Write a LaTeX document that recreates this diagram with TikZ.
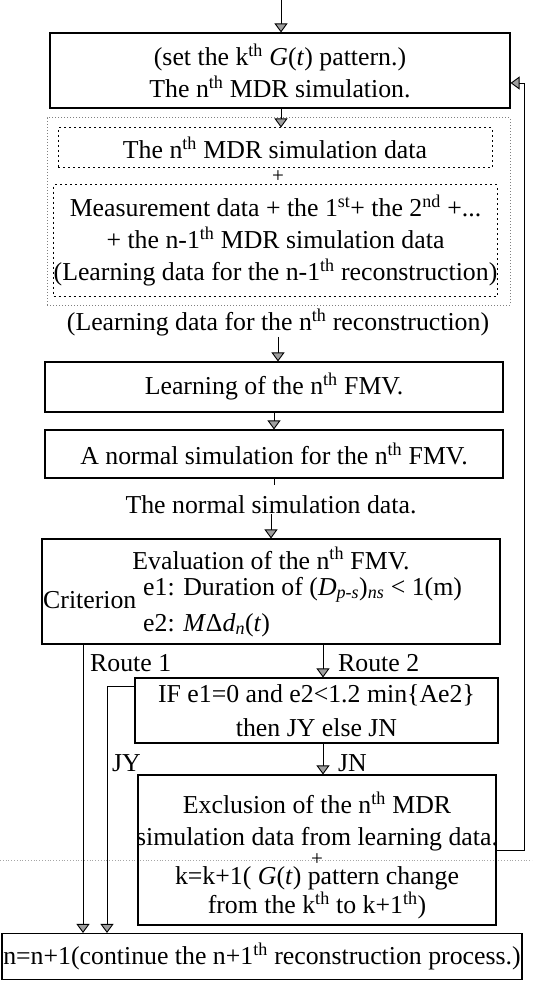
\documentclass[tikz,border=0pt]{standalone}
\usepackage{fontspec}
\setmainfont{Liberation Serif}
\usetikzlibrary{arrows.meta}
\tikzset{
  box/.style={draw, line width=1.1pt, align=center, inner sep=0pt},
  dbox/.style={draw, line width=1pt, dash pattern=on 2pt off 3pt, align=center, inner sep=0pt},
  arr/.style={line width=0.9pt, -{Triangle[width=13pt,length=9pt,fill=gray!75]}},
  lbl/.style={inner sep=0pt, align=center}
}
\newcommand{\thx}{\textsuperscript{th}}

\begin{document}
\begin{tikzpicture}[x=1pt,y=-1pt,font=\fontsize{25.8}{32}\selectfont]
  \useasboundingbox (0,0) rectangle (532,981);
  \draw[gray!70, dotted, line width=0.8pt] (0,860) -- (532,860) ; % scan line
  % upper part
  \node[box, minimum width=460pt, minimum height=75pt] (mdr) at (280,70.5)
    {(set the k\thx{} \textit{G}(\textit{t}) pattern.)\\The n\thx{} MDR simulation.};
  \node[draw, gray, dotted, line width=1pt, minimum width=463pt, minimum height=187pt] (learnset) at (278.5,211.5) {};
  \node[dbox, minimum width=434pt, minimum height=40pt] (cur) at (275,148) {The n\thx{} MDR simulation data};
  \node[lbl, font=\fontsize{21}{21}\selectfont] (plusA) at (278,177) {+};
  \node[dbox, minimum width=435pt, minimum height=111pt] (prev) at (275.5,240.5)
    {Measurement data + the 1\textsuperscript{st}+ the 2\textsuperscript{nd} +...\\+ the n-1\thx{} MDR simulation data\\(Learning data for the n-1\thx{} reconstruction)};
  \node[lbl] (ldtxt) at (278,323) {(Learning data for the n\thx{} reconstruction)};
  \node[box, minimum width=458pt, minimum height=50pt] (learn) at (274,387) {Learning of the n\thx{} FMV.};
  \node[box, minimum width=458pt, minimum height=48pt] (normal) at (274,454) {A normal simulation for the n\thx{} FMV.};
  \node[lbl] (nstxt) at (271,505) {The normal simulation data.};
  % evaluation
  \node[box, minimum width=458pt, minimum height=105pt] (eval) at (271,591.5) {};
  \node[lbl, anchor=base] (evalt) at (271,569) {Evaluation of the n\thx{} FMV.};
  \node[lbl, anchor=base west] (crit) at (43,608) {Criterion};
  \node[lbl, anchor=base west] (eone) at (143,595)
    {e1: Duration of (\textit{D}\textsubscript{\textit{p-s}})\textsubscript{\textit{ns}} < 1(m)};
  \node[lbl, anchor=base west] (etwo) at (143,631) {e2: \textit{M}Δ\textit{d}\textsubscript{\textit{n}}(\textit{t})};
  % decision and lower part
  \node[box, minimum width=363pt, minimum height=65pt] (ifb) at (316.5,710.5)
    {IF e1=0 and e2<1.2 min\{Ae2\}\\[2pt]then JY else JN};
  \node[box, minimum width=358pt, minimum height=150pt] (excl) at (317,850) {};
  \node[lbl] (excltxt) at (317,855)
    {Exclusion of the n\thx{} MDR\\simulation data from learning data.\\[-12pt]{\fontsize{21}{21}\selectfont +}\\[-13pt]k=k+1( \textit{G}(\textit{t}) pattern change\\[-3pt]from the k\thx{} to k+1\thx)};
  \node[box, minimum width=520pt, minimum height=46pt] (fin) at (262,956.5)
    {n=n+1(continue the n+1\thx{} reconstruction process.)};
  \node[lbl, anchor=base west] (rone) at (90,671) {Route 1};
  \node[lbl, anchor=base west] (rtwo) at (338,671) {Route 2};
  \node[lbl, anchor=base west] (jy) at (112,771) {JY};
  \node[lbl, anchor=base west] (jn) at (338,771) {JN};
  % connectors
  \coordinate (start) at (281,0);
  \coordinate (rcol) at (323,0);
  \coordinate (r1) at (83,0);
  \coordinate (jyc) at (107,686);
  \coordinate (fbx) at (524,0);
  \coordinate (fby) at (0,83);
  \draw[arr] (start) -- (start |- mdr.north) ;
  \draw[arr] (mdr.south -| start) -- (cur.north -| start) ;
  \draw[arr] (ldtxt.south) -- (ldtxt.south |- learn.north) ;
  \draw[arr] (learn.south) -- (normal.north) ;
  \draw[line width=0.9pt] (normal.south) -- ++(0,6) ;
  \draw[arr] (nstxt.south) -- (eval.north) ;
  \draw[arr] (eval.south -| r1) -- (r1 |- fin.north) ; % route 1
  \draw[arr] (eval.south -| rcol) -- (ifb.north -| rcol) ; % route 2
  \draw[arr] (ifb.west |- jyc) -- (jyc) -- (jyc |- fin.north) ;
  \draw[arr] (ifb.south -| rcol) -- (excl.north -| rcol) ;
  \draw[arr] (excl.east) -- (excl.east -| fbx) -- (fbx |- fby) -- (mdr.east |- fby) ;
\end{tikzpicture}
\end{document}
